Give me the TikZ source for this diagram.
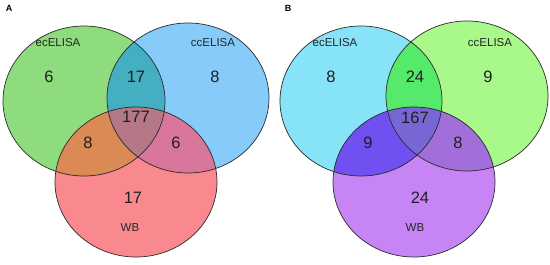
\documentclass[tikz,border=0pt]{standalone}
\usepackage{fontspec}
\setmainfont{Liberation Sans}
\definecolor{aG}{HTML}{8FDC7E}
\definecolor{aB}{HTML}{87CBFA}
\definecolor{aP}{HTML}{FA888F}
\definecolor{aGB}{HTML}{43AFC0}
\definecolor{aGP}{HTML}{DB8955}
\definecolor{aBP}{HTML}{D9769B}
\definecolor{aC}{HTML}{B47886}
\definecolor{bC}{HTML}{86E3F8}
\definecolor{bG}{HTML}{A9F98A}
\definecolor{bP}{HTML}{C784F5}
\definecolor{bCG}{HTML}{56EA6A}
\definecolor{bCP}{HTML}{7150F2}
\definecolor{bGP}{HTML}{A26EDA}
\definecolor{bM}{HTML}{7767D5}
\definecolor{edge}{HTML}{2A2A2A}
\tikzset{
  num/.style={font=\fontsize{16.5}{16.5}\selectfont, text=black!88},
  setlbl/.style={font=\fontsize{11.5}{11.5}\selectfont, text=black!85},
  panel/.style={font=\bfseries\fontsize{9}{9}\selectfont},
  rim/.style={draw=edge, line width=0.7pt}
}
\newcommand{\ellA}[1]{(#1) ellipse [x radius=81pt, y radius=75pt]}
\begin{document}
\begin{tikzpicture}[x=1pt,y=-1pt]
\useasboundingbox (0,0) rectangle (550,265);
% ---------- Panel A ----------
\coordinate (AL) at (84,101);
\coordinate (AR) at (188,98);
\coordinate (AW) at (136,182);
\fill[aG] \ellA{AL};
\fill[aB] \ellA{AR};
\fill[aP] \ellA{AW};
\begin{scope}\clip \ellA{AL}; \fill[aGB] \ellA{AR};\end{scope}
\begin{scope}\clip \ellA{AL}; \fill[aGP] \ellA{AW};\end{scope}
\begin{scope}\clip \ellA{AR}; \fill[aBP] \ellA{AW};\end{scope}
\begin{scope}\clip \ellA{AL}; \clip \ellA{AR}; \fill[aC] \ellA{AW};\end{scope}
\draw[rim] \ellA{AL};
\draw[rim] \ellA{AR};
\draw[rim] \ellA{AW};
\node[panel] (pA) at (9,8) {A};
\node[setlbl] (aL1) at (58,43) {ecELISA};
\node[setlbl] (aL2) at (213,43) {ccELISA};
\node[setlbl] (aL3) at (130,228) {WB};
\node[num] (a1) at (49,77) {6};
\node[num] (a2) at (136,77) {17};
\node[num] (a3) at (215,77) {8};
\node[num] (a4) at (136,117) {177};
\node[num] (a5) at (88,143) {8};
\node[num] (a6) at (176,143) {6};
\node[num] (a7) at (133,198) {17};
% ---------- Panel B ----------
\coordinate (BL) at (361,101);
\coordinate (BR) at (467,96);
\coordinate (BW) at (414,182);
\fill[bC] \ellA{BL};
\fill[bG] \ellA{BR};
\fill[bP] \ellA{BW};
\begin{scope}\clip \ellA{BL}; \fill[bCG] \ellA{BR};\end{scope}
\begin{scope}\clip \ellA{BL}; \fill[bCP] \ellA{BW};\end{scope}
\begin{scope}\clip \ellA{BR}; \fill[bGP] \ellA{BW};\end{scope}
\begin{scope}\clip \ellA{BL}; \clip \ellA{BR}; \fill[bM] \ellA{BW};\end{scope}
\draw[rim] \ellA{BL};
\draw[rim] \ellA{BR};
\draw[rim] \ellA{BW};
\node[panel] (pB) at (288,8) {B};
\node[setlbl] (bL1) at (335,43) {ecELISA};
\node[setlbl] (bL2) at (490,43) {ccELISA};
\node[setlbl] (bL3) at (415,228) {WB};
\node[num] (b1) at (331,77) {8};
\node[num] (b2) at (415,77) {24};
\node[num] (b3) at (488,77) {9};
\node[num] (b4) at (415,118) {167};
\node[num] (b5) at (368,143) {9};
\node[num] (b6) at (458,143) {8};
\node[num] (b7) at (420,198) {24};
\end{tikzpicture}
\end{document}
